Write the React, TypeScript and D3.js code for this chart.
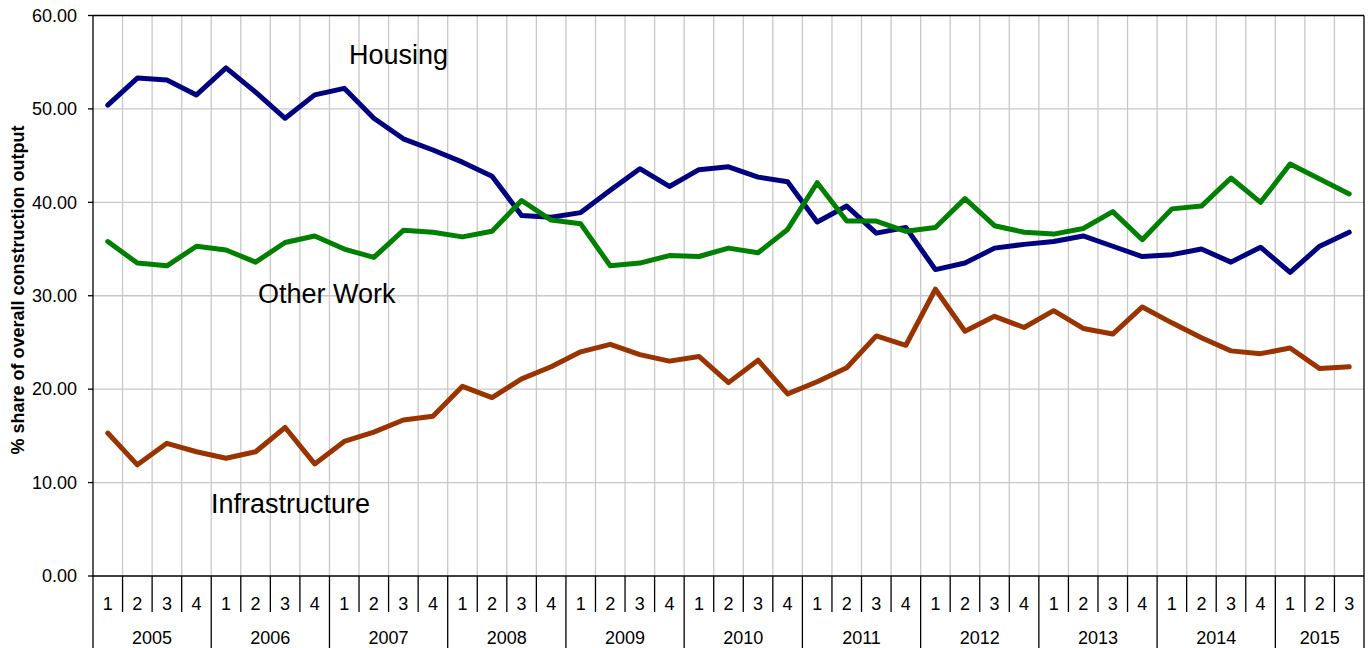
import * as d3 from "d3";

const years = [2005, 2006, 2007, 2008, 2009, 2010, 2011, 2012, 2013, 2014, 2015];
const quartersInYear = [4, 4, 4, 4, 4, 4, 4, 4, 4, 4, 3];
const yTicks = [0, 10, 20, 30, 40, 50, 60];

const housing = [
  50.4, 53.3, 53.1, 51.5, 54.4, 51.8, 49.0, 51.5, 52.2, 49.0, 46.8, 45.6,
  44.3, 42.8, 38.6, 38.4, 38.9, 41.3, 43.6, 41.7, 43.5, 43.8, 42.7, 42.2,
  37.9, 39.6, 36.7, 37.3, 32.8, 33.5, 35.1, 35.5, 35.8, 36.4, 35.3, 34.2,
  34.4, 35.0, 33.6, 35.2, 32.5, 35.3, 36.8,
];
const otherWork = [
  35.8, 33.5, 33.2, 35.3, 34.9, 33.6, 35.7, 36.4, 35.0, 34.1, 37.0, 36.8,
  36.3, 36.9, 40.2, 38.1, 37.7, 33.2, 33.5, 34.3, 34.2, 35.1, 34.6, 37.1,
  42.1, 38.0, 38.0, 36.9, 37.3, 40.4, 37.5, 36.8, 36.6, 37.2, 39.0, 36.0,
  39.3, 39.6, 42.6, 40.0, 44.1, 42.5, 40.9,
];
const infrastructure = [
  15.3, 11.9, 14.2, 13.3, 12.6, 13.3, 15.9, 12.0, 14.4, 15.4, 16.7, 17.1,
  20.3, 19.1, 21.1, 22.4, 24.0, 24.8, 23.7, 23.0, 23.5, 20.7, 23.1, 19.5,
  20.8, 22.3, 25.7, 24.7, 30.7, 26.2, 27.8, 26.6, 28.4, 26.5, 25.9, 28.8,
  27.1, 25.5, 24.1, 23.8, 24.4, 22.2, 22.4,
];

const series = [
  { name: "Housing", values: housing, color: "#000080", labelAt: [8.66, 54.8] },
  { name: "Other Work", values: otherWork, color: "#008000", labelAt: [5.58, 29.2] },
  { name: "Infrastructure", values: infrastructure, color: "#993300", labelAt: [3.99, 6.75] },
];

const W = 1368;
const H = 648;
const left = 93;
const right = 1364;
const top = 15.5;
const bottom = 576;
const font = "'Liberation Sans', Arial, sans-serif";

export default function App() {
  const quarters: { key: string; q: number; year: number }[] = [];
  years.forEach((y, i) => {
    for (let q = 1; q <= quartersInYear[i]; q++) quarters.push({ key: `${y}-${q}`, q, year: y });
  });

  const x = d3.scaleBand<string>().domain(quarters.map((d) => d.key)).range([left, right]).padding(0);
  const y = d3.scaleLinear().domain([0, 60]).range([bottom, top]);
  const bw = x.bandwidth();
  const idx = d3.scaleLinear().domain([0, quarters.length]).range([left, right]);

  const line = d3
    .line<number>()
    .x((_, i) => (x(quarters[i].key) as number) + bw / 2)
    .y((d) => y(d));

  // year boundaries
  const yearStarts: { year: number; x0: number; x1: number }[] = [];
  let c = 0;
  years.forEach((yr, i) => {
    const x0 = idx(c);
    c += quartersInYear[i];
    yearStarts.push({ year: yr, x0, x1: idx(c) });
  });

  return (
    <svg width={W} height={H} style={{ position: "absolute", left: 0, top: 0, background: "#fff" }}>
      {/* horizontal grid */}
      {yTicks.slice(1, -1).map((t) => (
        <line key={t} x1={left} x2={right} y1={y(t)} y2={y(t)} stroke="#c8c8c8" strokeWidth={1.3} />
      ))}
      {/* vertical grid */}
      {quarters.slice(1).map((q) => (
        <line key={q.key} x1={x(q.key)} x2={x(q.key)} y1={top} y2={bottom} stroke="#c8c8c8" strokeWidth={1.3} />
      ))}
      {/* frame */}
      <line x1={left} x2={right} y1={top} y2={top} stroke="#000" strokeWidth={1.3} />
      <line x1={right} x2={right} y1={top} y2={bottom} stroke="#000" strokeWidth={1.3} />
      <line x1={left} x2={left} y1={top} y2={bottom} stroke="#000" strokeWidth={1.3} />
      <line x1={left - 1} x2={right} y1={bottom} y2={bottom} stroke="#000" strokeWidth={1.3} />

      {/* y ticks */}
      {yTicks.map((t) => (
        <g key={t}>
          <line x1={left - 5} x2={left} y1={y(t)} y2={y(t)} stroke="#000" strokeWidth={1.3} />
          <text x={left - 16} y={y(t)} dy="0.35em" textAnchor="end" fontFamily={font} fontSize={18} fill="#000">
            {t.toFixed(2)}
          </text>
        </g>
      ))}

      {/* quarter separators and labels */}
      {quarters.map((q, i) => (
        <g key={q.key}>
          {i > 0 && q.q !== 1 && (
            <line x1={x(q.key)} x2={x(q.key)} y1={bottom} y2={612} stroke="#000" strokeWidth={1.3} />
          )}
          <text
            x={(x(q.key) as number) + bw / 2}
            y={610}
            textAnchor="middle"
            fontFamily={font}
            fontSize={18}
            fill="#000"
          >
            {q.q}
          </text>
        </g>
      ))}
      {/* year separators and labels */}
      {yearStarts.map((ys) => (
        <g key={ys.year}>
          <line x1={ys.x0} x2={ys.x0} y1={bottom} y2={H} stroke="#000" strokeWidth={1.3} />
          <text x={(ys.x0 + ys.x1) / 2} y={644} textAnchor="middle" fontFamily={font} fontSize={18} fill="#000">
            {ys.year}
          </text>
        </g>
      ))}
      <line x1={right} x2={right} y1={bottom} y2={H} stroke="#000" strokeWidth={1.3} />

      {/* series */}
      {series.map((s) => (
        <path
          key={s.name}
          d={line(s.values) as string}
          fill="none"
          stroke={s.color}
          strokeWidth={5}
          strokeLinejoin="round"
          strokeLinecap="round"
        />
      ))}
      {series.map((s) => (
        <text
          key={s.name + "-label"}
          x={idx(s.labelAt[0])}
          y={y(s.labelAt[1])}
          fontFamily={font}
          fontSize={27}
          fill="#000"
        >
          {s.name}
        </text>
      ))}

      {/* y axis title */}
      <text
        transform={`translate(24, ${(115 + 465) / 2}) rotate(-90)`}
        textAnchor="middle"
        fontFamily={font}
        fontSize={18}
        fontWeight="bold"
        fill="#000"
      >
        % share of overall construction output
      </text>
    </svg>
  );
}
